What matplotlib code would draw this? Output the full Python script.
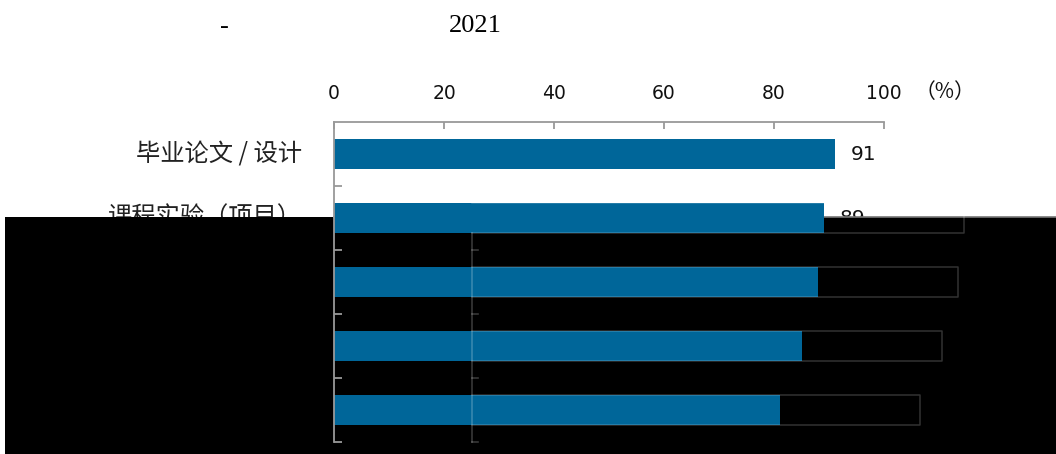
import matplotlib
matplotlib.use('Agg')
import matplotlib.pyplot as plt
from matplotlib.patches import Rectangle
from matplotlib.lines import Line2D
import matplotlib.transforms as mtransforms

# chart data
categories = ['毕业论文 / 设计', '课程实验（项目）', '专业实习', '社会实践', '课程设计']
values = [91, 89, 88, 85, 81]
x_ticks = [0, 20, 40, 60, 80, 100]
title_parts = ['-', '2021']
unit_label = '（%）'

bar_color = '#006699'
gray = '#999999'
ghost_shift = 25.5

W, H = 1056, 454
fig = plt.figure(figsize=(W / 100, H / 100), dpi=100)
fig.patch.set_facecolor('white')

ax = fig.add_axes([334 / W, 1 - 442 / H, 550 / W, 320 / H])
ax.set_facecolor('none')
ypos = list(range(len(categories)))
ax.barh(ypos, values, height=0.46, color=bar_color, zorder=4)
ax.set_xlim(0, 100)
ax.set_ylim(len(categories) - 0.5, -0.5)

# spines / ticks
for side in ['right', 'bottom']:
    ax.spines[side].set_visible(False)
for side in ['top', 'left']:
    ax.spines[side].set_color(gray)
    ax.spines[side].set_linewidth(1.3)
    ax.spines[side].set_zorder(6)

ax.xaxis.tick_top()
ax.set_xticks(x_ticks)
ax.set_xticklabels([str(t) for t in x_ticks])
ax.tick_params(axis='x', direction='in', length=5, width=1.3, color=gray,
               pad=14, labelsize=13.5, labelcolor='#111111')
ax.set_yticks([])
ax.set_yticks([i + 0.5 for i in ypos], minor=True)
ax.tick_params(axis='y', which='minor', direction='in', length=6, width=1.3, color=gray)
ax.yaxis.set_zorder(6)
for lab in ax.get_xticklabels():
    lab.set_family('DejaVu Sans')

# category and value labels (sit under the black block)
trans = mtransforms.blended_transform_factory(ax.transAxes, ax.transData)
for i, (cat, v) in enumerate(zip(categories, values)):
    ax.text(-0.058, i, cat, transform=trans, ha='right', va='center', fontsize=17.5,
            family=['Noto Sans CJK SC', 'DejaVu Sans'], color='#222222', zorder=2)
    ax.text(v + 3, i, str(v), ha='left', va='center', fontsize=14.5,
            family='DejaVu Sans', color='#111111', zorder=2)

# black block over the lower part
block = Rectangle((5 / W, 0), 1 - 5 / W, 1 - 217 / H, transform=fig.transFigure,
                  facecolor='black', edgecolor='none', zorder=3, clip_on=False)
ax.add_patch(block)
ax.add_line(Line2D([334 / W, 1], [1 - 217 / H, 1 - 217 / H], transform=fig.transFigure,
                   color='#777777', lw=1.2, zorder=3.5, clip_on=False))

# faint shifted copy of the axis and bars
ghost = dict(color='white', alpha=0.22, lw=1.2, zorder=5)
x0 = ghost_shift - 0.5
gline = Line2D([x0, x0], [1.23, 4.5], **ghost)
ax.add_line(gline)
gline.set_clip_path(block)
for i in ypos[1:]:
    tk = Line2D([x0, ghost_shift + 0.6], [i + 0.5, i + 0.5], **ghost)
    ax.add_line(tk)
    tk.set_clip_path(block)
for i in ypos[1:]:
    x1 = values[i] + ghost_shift
    outline = Line2D([x0, x1, x1, x0], [i - 0.23, i - 0.23, i + 0.23, i + 0.23],
                     color='white', alpha=0.2, lw=1.1, zorder=5, clip_on=False)
    ax.add_line(outline)
    outline.set_clip_path(block)

# title fragments and unit
fig.text(224 / W, 1 - 27 / H, title_parts[0], ha='center', va='center',
         fontsize=19, family='Liberation Serif')
fig.text(475 / W, 1 - 26 / H, title_parts[1], ha='center', va='center',
         fontsize=19, family='Liberation Serif')
fig.text(945 / W, 1 - 92 / H, unit_label, ha='center', va='center', fontsize=15,
         family=['Noto Sans CJK SC', 'DejaVu Sans'], color='#111111')

fig.savefig('out.png', dpi=100)
